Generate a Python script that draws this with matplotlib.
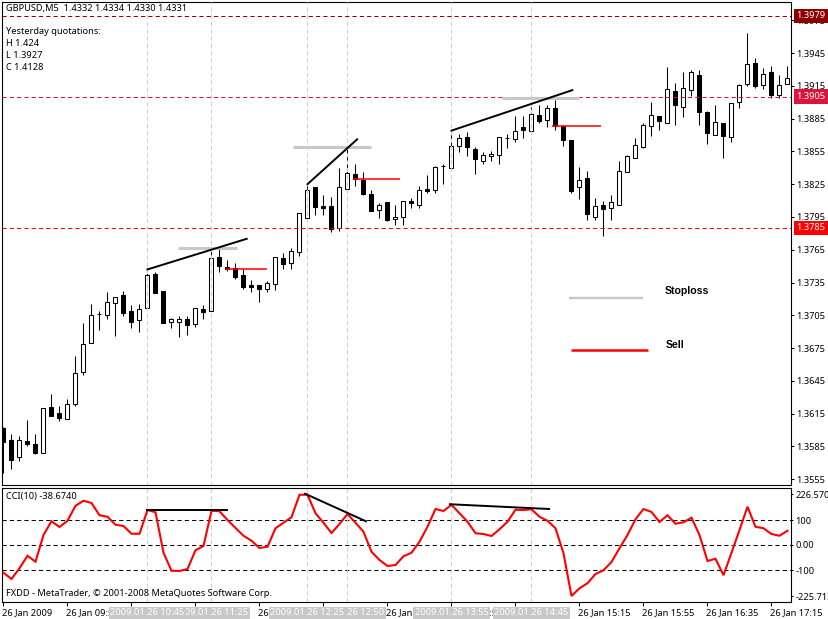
import numpy as np
import matplotlib
matplotlib.use("Agg")
import matplotlib.pyplot as plt
from matplotlib.transforms import blended_transform_factory, ScaledTranslation

# ---------- data (prices in pips, 1 pip = 0.0001) ----------
open_pips = [13602,13591,13575,13590,13587,13579,13621,13616,13610,13624,13653,13680,13706,13705,13716,13724,13709,13701,13712,13743,
             13727,13699,13699,13702,13697,13711,13709,13758,13749,13748,13742,13733,13733,13729,13734,13757,13753,13763,13794,13822,
             13805,13805,13785,13821,13834,13829,13816,13801,13809,13793,13795,13810,13806,13821,13820,13842,13840,13860,13868,13857,
             13846,13851,13852,13867,13866,13877,13874,13888,13884,13895,13878,13865,13822,13831,13795,13806,13803,13806,13836,13849,
             13859,13878,13887,13881,13910,13896,13911,13925,13891,13870,13881,13868,13900,13917,13936,13916,13928,13907,13917]
high_pips = [13603,13596,13595,13609,13596,13620,13633,13622,13628,13668,13698,13715,13709,13726,13722,13727,13714,13715,13748,13745,
             13727,13703,13704,13704,13712,13714,13765,13766,13756,13753,13747,13737,13733,13736,13758,13762,13767,13799,13824,13822,
             13815,13813,13840,13858,13843,13836,13820,13808,13809,13806,13810,13812,13823,13833,13842,13843,13874,13871,13873,13859,
             13854,13855,13868,13871,13887,13887,13896,13897,13897,13902,13879,13865,13841,13837,13812,13810,13815,13846,13852,13867,
             13881,13900,13887,13932,13918,13928,13929,13929,13892,13897,13881,13899,13917,13963,13940,13931,13933,13925,13933]
low_pips = [13561,13564,13572,13585,13578,13579,13613,13608,13610,13622,13650,13680,13692,13702,13686,13704,13693,13690,13712,13725,
            13698,13693,13685,13687,13694,13702,13709,13745,13746,13738,13729,13726,13717,13726,13728,13747,13747,13759,13794,13797,
            13797,13781,13782,13821,13823,13815,13800,13794,13791,13788,13788,13803,13803,13817,13817,13825,13840,13854,13851,13834,
            13843,13846,13843,13858,13864,13867,13871,13881,13877,13875,13860,13817,13811,13792,13792,13778,13792,13806,13836,13849,
            13858,13869,13875,13881,13879,13886,13906,13879,13862,13870,13849,13864,13895,13915,13913,13912,13904,13904,13917]
close_pips = [13589,13573,13591,13587,13579,13620,13613,13611,13624,13652,13679,13705,13706,13717,13722,13707,13699,13711,13742,13725,
              13698,13702,13702,13696,13712,13708,13757,13750,13747,13740,13731,13731,13729,13735,13758,13752,13764,13799,13820,13804,
              13803,13784,13822,13835,13830,13816,13800,13806,13792,13795,13810,13808,13820,13819,13841,13842,13860,13867,13859,13848,
              13852,13853,13868,13867,13874,13875,13889,13883,13895,13878,13865,13819,13829,13798,13805,13802,13809,13837,13851,13861,
              13879,13888,13883,13912,13897,13913,13928,13891,13872,13882,13869,13899,13916,13935,13915,13926,13907,13916,13922]
cci_values = [-111,-136,-93,-43,-67,40,95,72,97,157,177,168,119,113,81,76,45,45,140,131,
              -31,-103,-104,-96,-21,-4,137,135,100,68,37,17,-12,-7,67,89,111,201,201,127,
              89,48,84,124,89,53,-27,-60,-84,-80,-45,-31,13,73,144,136,161,127,93,47,
              44,36,63,93,141,140,143,113,97,67,-33,-204,-173,-153,-116,-101,-68,-13,40,103,
              144,132,92,119,85,91,109,40,-64,-55,-121,-31,60,153,73,67,44,37,57]

price_ticks = [1.3555,1.3585,1.3615,1.3645,1.3675,1.3705,1.3735,1.3765,1.3795,1.3825,1.3855,1.3885,1.3915,1.3945,1.3975]
price_tick_labels = ["1.3555","1.3585","1.3615","1.3645","1.3675","1.3705","1.3735","1.3765","1.3795","1.3825","1.3855","1.3885","1.3915","1.3945","1.3975"]
level_prices = [1.3979, 1.3905, 1.3785]
level_labels = ["1.3979", "1.3905", "1.3785"]
level_colors = ["#8B0000", "#DC143C", "#FF0000"]
cci_levels = [100, 0, -100]
cci_ticks = [204, 100, 0, -100, -204]
cci_tick_labels = ["226.5708", "100", "0.00", "-100", "-225.713"]
time_ticks = [0,8,16,24,32,40,48,56,64,72,80,88,96]
time_labels = ["26 Jan 2009","26 Jan 09:55","26 Jan 10:35","26 Jan 11:15","26 Jan 11:55","26 Jan 12:35","26 Jan 13:15",
               "26 Jan 13:55","26 Jan 14:35","26 Jan 15:15","26 Jan 15:55","26 Jan 16:35","26 Jan 17:15"]
marker_bars = [18, 26, 38, 43, 56, 66]
marker_labels = ["2009.01.26 10:45","2009.01.26 11:25","2009.01.26 12:25","2009.01.26 12:50","2009.01.26 13:55","2009.01.26 14:45"]

trend_bars = [(18, 30.4), (38, 44.2), (56, 71.1)]
trend_prices = [(1.3747, 1.3775), (1.3825, 1.3866), (1.3874, 1.3911)]
stop_bars = [(21.85, 29.2), (36.2, 46.0), (62.3, 72.0)]
stop_prices = [1.3767, 1.3859, 1.3904]
sell_bars = [(27.8, 33.0), (43.7, 49.6), (68.6, 74.7)]
sell_prices = [1.3747, 1.3830, 1.3878]
legend_stop_bars = (70.7, 80.0)
legend_stop_price = 1.3721
legend_sell_bars = (71.0, 80.6)
legend_sell_price = 1.3673
cci_trend_bars = [(18, 27.9), (37.7, 45.3), (55.8, 68.2)]
cci_trend_vals = [(141, 141), (205, 95), (163, 144)]

# ---------- layout ----------
W, H = 829, 619
FONT = "Noto Sans"
FS = 6.65
plt.rcParams["font.family"] = FONT
fig = plt.figure(figsize=(W/100, H/100), dpi=100, facecolor="white")

def box(l, t, r, b):
    return [l/W, 1-b/H, (r-l)/W, (b-t)/H]

ax = fig.add_axes(box(2.5, 1.5, 791.5, 485))
ax2 = fig.add_axes(box(2.5, 487.5, 791.5, 602))
x = np.arange(len(open_pips))
o, h, l, c = [np.array(a)/1e4 for a in (open_pips, high_pips, low_pips, close_pips)]

ax.set_xlim(-0.125, 98.5)
ax2.set_xlim(-0.125, 98.5)
ax.set_ylim(1.3945-(485-53)/10930, 1.3945+(53-1.5)/10930)
ax2.set_ylim(-228, 230)

# candles
LW1 = 0.75
ax.vlines(x, l, h, color="black", lw=LW1, zorder=2)
up = c >= o
ax.bar(x[up], (c-o)[up], bottom=o[up], width=0.5, facecolor="white", edgecolor="black", linewidth=LW1, zorder=3)
ax.bar(x[~up], (o-c)[~up], bottom=c[~up], width=0.5, facecolor="black", edgecolor="black", linewidth=LW1, zorder=3)

# marker verticals
for a in (ax, ax2):
    for b in marker_bars:
        a.axvline(b, color="#CFCFCF", lw=LW1, dashes=(4, 3), zorder=4)

# horizontal levels
for p, col in zip(level_prices, level_colors):
    ax.axhline(p, color=col, lw=LW1, dashes=(4, 3), zorder=4)

# drawn objects
for bb, pp in zip(stop_bars, stop_prices):
    ax.plot(bb, (pp, pp), color="#C8C8C8", lw=2.2, solid_capstyle="butt", zorder=5)
for bb, pp in zip(trend_bars, trend_prices):
    ax.plot(bb, pp, color="black", lw=1.4, zorder=6)
for bb, pp in zip(sell_bars, sell_prices):
    ax.plot(bb, (pp, pp), color="#FF0000", lw=1.1, solid_capstyle="butt", zorder=6)
ax.plot(legend_stop_bars, (legend_stop_price,)*2, color="#C8C8C8", lw=1.7, solid_capstyle="butt")
ax.plot(legend_sell_bars, (legend_sell_price,)*2, color="#FF0000", lw=1.8, solid_capstyle="butt")

# CCI
for v in cci_levels:
    ax2.axhline(v, color="black", lw=LW1, dashes=(4, 3), zorder=2)
ax2.plot(x, cci_values, color="#FF0000", lw=1.5, zorder=5, solid_joinstyle="miter")
for bb, vv in zip(cci_trend_bars, cci_trend_vals):
    ax2.plot(bb, vv, color="black", lw=1.4, zorder=6)

# axes styling
for a in (ax, ax2):
    for s in a.spines.values():
        s.set_linewidth(0.8)
    a.yaxis.tick_right()
ax.set_xticks([])
ax.set_yticks(price_ticks)
ax.set_yticklabels(price_tick_labels)
ax.tick_params(axis="y", length=2, width=LW1, pad=1.5, labelsize=FS)
ax2.set_yticks(cci_ticks)
ax2.set_yticklabels(cci_tick_labels)
ax2.tick_params(axis="y", length=1.5, width=LW1, pad=1.2, labelsize=FS)
ax2.set_xticks(time_ticks)
ax2.set_xticklabels(time_labels, ha="left")
ax2.tick_params(axis="x", length=3, width=LW1, pad=1.5, labelsize=FS)
shift = ScaledTranslation(-1.5/100, 0, fig.dpi_scale_trans)
for t in ax2.get_xticklabels():
    t.set_transform(t.get_transform() + shift)

# price level flags
trans = blended_transform_factory(fig.transFigure, ax.transData)
for p, lab, col in zip(level_prices, level_labels, level_colors):
    ax.text(796.5/W, p, lab, transform=trans, color="white", fontsize=FS, ha="left", va="center", zorder=10, clip_on=False,
            bbox=dict(facecolor=col, edgecolor="none", boxstyle="square,pad=0.3"))

# marker labels on the time axis (earlier ones on top)
n = len(marker_bars)
for k, (b, lab) in enumerate(zip(marker_bars, marker_labels)):
    ax2.annotate(lab, xy=(b, 0), xycoords=("data", "axes fraction"), xytext=(0, -4.6), textcoords="offset points",
                 ha="center", va="top", color="white", fontsize=FS, annotation_clip=False, zorder=20+n-k,
                 bbox=dict(facecolor="#C8C8C8", edgecolor="none", boxstyle="square,pad=0.15"))

# free texts
def label(px, py, s, **kw):
    kw.setdefault("fontsize", FS)
    fig.text(px/W, 1-py/H, s, ha="left", va="center", color="black", zorder=30, **kw)

label(6, 9, "GBPUSD,M5  1.4332 1.4334 1.4330 1.4331")
label(6, 32, "Yesterday quotations:")
label(6, 44, "H 1.424")
label(6, 56, "L 1.3927")
label(6, 68, "C 1.4128")
label(6, 497, "CCI(10) -38.6740")
label(6, 593, "FXDD - MetaTrader, © 2001-2008 MetaQuotes Software Corp.")
label(665, 291, "Stoploss", family="Liberation Sans", fontweight="bold", fontsize=7.6)
label(666, 345, "Sell", family="Liberation Sans", fontweight="bold", fontsize=7.6)

fig.savefig("out.png", dpi=100, facecolor="white")
